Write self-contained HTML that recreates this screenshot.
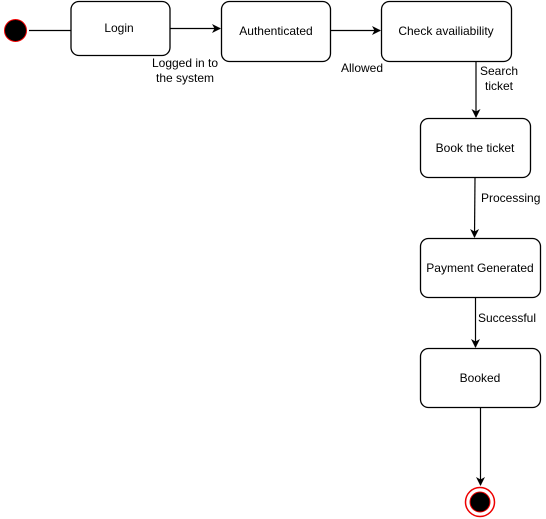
<!DOCTYPE html>
<html><head><meta charset="utf-8"><style>
html,body{margin:0;padding:0;background:#fff;}
svg{display:block;}
text{font-family:"Liberation Sans",Arial,sans-serif;font-size:12px;fill:#000;}
</style></head><body>
<svg width="546" height="519" viewBox="0 0 546 519" xmlns="http://www.w3.org/2000/svg">
<defs><marker id="a" markerWidth="10" markerHeight="10" refX="8" refY="5" orient="auto" markerUnits="userSpaceOnUse"><path d="M0,0.5 L9,5 L0,9.5 L2.5,5 Z" fill="#000"/></marker></defs>
<circle cx="15.5" cy="30.5" r="11" fill="#000" stroke="#e00" stroke-width="1"/>
<line x1="29" y1="30.5" x2="71" y2="30.5" stroke="#000" stroke-width="1.2"/>
<rect x="71" y="1.5" width="99" height="54" rx="8" fill="#fff" stroke="#000" stroke-width="1.3"/>
<text x="119" y="32" text-anchor="middle">Login</text>
<line x1="170" y1="28.5" x2="220" y2="28.5" stroke="#000" stroke-width="1.2" marker-end="url(#a)"/>
<text x="185" y="67" text-anchor="middle">Logged in to</text>
<text x="185" y="82" text-anchor="middle">the system</text>
<rect x="221.5" y="1.5" width="109" height="60" rx="8" fill="#fff" stroke="#000" stroke-width="1.3"/>
<text x="276" y="35" text-anchor="middle">Authenticated</text>
<line x1="331" y1="30.5" x2="380" y2="30.5" stroke="#000" stroke-width="1.2" marker-end="url(#a)"/>
<text x="362" y="72" text-anchor="middle">Allowed</text>
<rect x="381.5" y="1.5" width="130" height="60" rx="8" fill="#fff" stroke="#000" stroke-width="1.3"/>
<text x="446" y="35" text-anchor="middle">Check availiability</text>
<line x1="476" y1="62" x2="476" y2="117" stroke="#000" stroke-width="1.2" marker-end="url(#a)"/>
<text x="499" y="75" text-anchor="middle">Search</text>
<text x="499" y="90" text-anchor="middle">ticket</text>
<rect x="420.5" y="118.5" width="110" height="59" rx="8" fill="#fff" stroke="#000" stroke-width="1.3"/>
<text x="475" y="152" text-anchor="middle">Book the ticket</text>
<line x1="475" y1="178" x2="474.5" y2="237" stroke="#000" stroke-width="1.2" marker-end="url(#a)"/>
<text x="481" y="202">Processing</text>
<rect x="420.5" y="238.5" width="120" height="59" rx="8" fill="#fff" stroke="#000" stroke-width="1.3"/>
<text x="480" y="272" text-anchor="middle">Payment Generated</text>
<line x1="475.5" y1="298" x2="475.5" y2="347" stroke="#000" stroke-width="1.2" marker-end="url(#a)"/>
<text x="478" y="322">Successful</text>
<rect x="420.5" y="348.5" width="120" height="59" rx="8" fill="#fff" stroke="#000" stroke-width="1.3"/>
<text x="480" y="382" text-anchor="middle">Booked</text>
<line x1="480.5" y1="408" x2="480.5" y2="485" stroke="#000" stroke-width="1.2" marker-end="url(#a)"/>
<circle cx="480" cy="502" r="14.5" fill="#fff" stroke="#e00" stroke-width="1.5"/>
<circle cx="480" cy="502" r="10" fill="#000" stroke="#e00" stroke-width="1"/>
</svg>
</body></html>
